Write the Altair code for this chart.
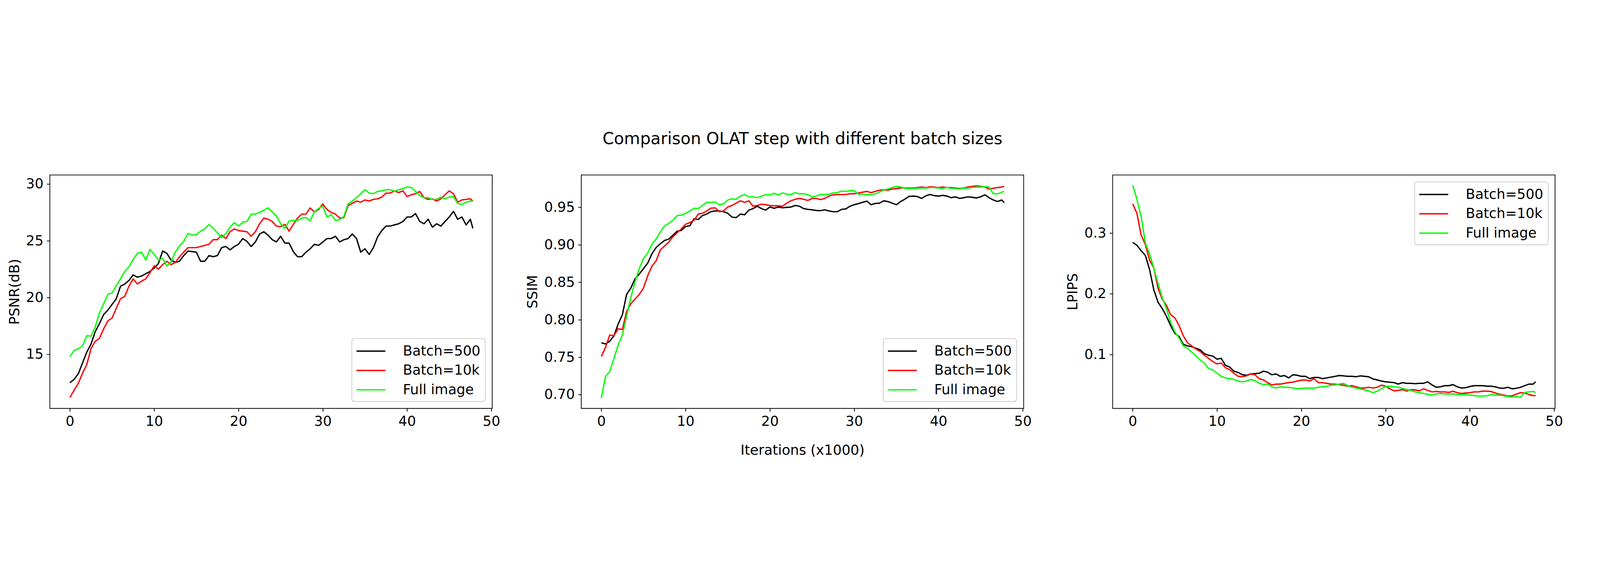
import altair as alt
import pandas as pd

FONT = "DejaVu Sans"

# x positions (thousands of iterations)
ITER = [i * 0.5 for i in range(96)] + [47.8]

SERIES = ["Batch=500", "Batch=10k", "Full image"]
COLORS = ["#000000", "#ff0000", "#00ff00"]

X_TICKS = [0, 10, 20, 30, 40, 50]

# ---------------- PSNR ----------------
psnr_b500 = [
    12.5, 12.8, 13.3, 14.25, 15.2, 15.9, 17.0, 17.7, 18.5, 18.9,
    19.4, 19.9, 21.0, 21.2, 21.5, 22.0, 21.8, 21.9, 22.1, 22.3,
    22.6, 23.0, 24.1, 23.9, 23.3, 23.1, 23.2, 23.7, 24.1, 24.05,
    24.0, 23.2, 23.2, 23.7, 23.6, 23.7, 24.4, 24.5, 24.2, 24.5,
    24.7, 25.2, 24.95, 24.5, 24.9, 25.6, 25.8, 25.5, 25.1, 24.9,
    25.4, 24.8, 24.8, 24.05, 23.6, 23.6, 24.0, 24.3, 24.7, 24.6,
    24.9, 25.2, 25.2, 25.4, 24.9, 25.1, 25.2, 25.6, 25.2, 24.0,
    24.3, 23.8, 24.4, 25.35, 25.9, 26.3, 26.3, 26.4, 26.5, 26.7,
    27.1, 27.1, 27.4, 26.7, 26.5, 26.9, 26.2, 26.5, 26.3, 26.7,
    27.1, 27.6, 26.9, 27.1, 26.4, 26.9, 26.1]
psnr_b10k = [
    11.2, 11.85, 12.45, 13.35, 14.1, 15.5, 16.15, 16.4, 17.25, 17.95,
    18.2, 19.05, 19.9, 20.1, 21.0, 21.65, 21.2, 21.45, 21.65, 22.2,
    22.8, 22.5, 22.9, 23.2, 22.9, 23.1, 23.6, 24.0, 24.4, 24.4,
    24.4, 24.5, 24.6, 24.7, 25.1, 25.1, 25.5, 25.2, 25.8, 26.05,
    25.9, 25.85, 25.8, 25.4, 25.8, 26.5, 27.0, 26.9, 26.7, 26.3,
    26.25, 26.45, 25.85, 26.45, 27.0, 27.35, 27.35, 27.9, 27.55, 27.75,
    28.25, 27.75, 27.5, 27.35, 27.0, 27.05, 28.1, 28.3, 28.5, 28.4,
    28.6, 28.5, 28.65, 28.7, 28.85, 29.2, 29.2, 29.4, 29.25, 29.4,
    28.9, 29.05, 29.15, 29.35, 28.8, 28.65, 28.7, 28.5, 28.7, 29.05,
    29.4, 29.15, 28.4, 28.6, 28.65, 28.7, 28.5]
psnr_full = [
    14.8, 15.35, 15.5, 15.75, 16.65, 16.6, 17.4, 18.65, 19.45, 20.3,
    20.4, 21.05, 21.65, 22.3, 22.7, 23.35, 23.9, 24.0, 23.3, 24.25,
    23.8, 23.3, 23.45, 22.8, 23.15, 24.0, 24.55, 24.95, 25.65, 25.5,
    25.55, 25.85, 26.05, 26.45, 26.1, 25.7, 25.3, 25.65, 26.2, 26.6,
    26.3, 26.65, 26.7, 27.35, 27.35, 27.5, 27.7, 27.9, 27.55, 27.2,
    26.5, 26.1, 26.75, 26.8, 26.8, 27.0, 27.05, 26.75, 27.55, 27.85,
    28.05, 27.1, 27.3, 26.8, 26.85, 27.15, 28.25, 28.5, 28.8, 29.15,
    29.5, 29.2, 29.15, 29.35, 29.4, 29.5, 29.5, 29.35, 29.5, 29.6,
    29.75, 29.7, 29.35, 29.0, 28.8, 28.8, 28.65, 28.65, 28.85, 28.7,
    28.85, 28.9, 28.3, 28.2, 28.4, 28.5, 28.5]

# ---------------- SSIM ----------------
ssim_b500 = [
    0.7693, 0.7677, 0.7714, 0.7787, 0.7943, 0.8068, 0.8338, 0.8422, 0.8547, 0.8609,
    0.8682, 0.8755, 0.888, 0.8963, 0.9015, 0.9057, 0.9077, 0.9129, 0.9182, 0.9192,
    0.9244, 0.9254, 0.9348, 0.9338, 0.939, 0.941, 0.9442, 0.9452, 0.9452, 0.9442,
    0.9421, 0.9369, 0.9363, 0.941, 0.94, 0.9463, 0.9483, 0.9515, 0.9483, 0.9463,
    0.9504, 0.9488, 0.9504, 0.9494, 0.95, 0.9504, 0.9525, 0.9515, 0.9483, 0.9473,
    0.9467, 0.9458, 0.9456, 0.9467, 0.9452, 0.9442, 0.9442, 0.9473, 0.9479, 0.9515,
    0.9535, 0.955, 0.9567, 0.9583, 0.9535, 0.9552, 0.9556, 0.9587, 0.9577, 0.9556,
    0.9535, 0.9577, 0.9608, 0.9646, 0.965, 0.9644, 0.9619, 0.9654, 0.9671, 0.9656,
    0.965, 0.966, 0.965, 0.9629, 0.964, 0.9619, 0.9629, 0.964, 0.9634, 0.9625,
    0.964, 0.9667, 0.9629, 0.9598, 0.9577, 0.9598, 0.9562]
ssim_b10k = [
    0.7510, 0.7631, 0.7797, 0.7787, 0.788, 0.787, 0.811, 0.8214, 0.8276, 0.8338,
    0.8422, 0.8588, 0.8713, 0.8786, 0.8932, 0.8984, 0.9036, 0.9109, 0.9161, 0.9213,
    0.9275, 0.9296, 0.9327, 0.941, 0.9421, 0.9452, 0.9488, 0.9494, 0.9442, 0.9452,
    0.9504, 0.9525, 0.9556, 0.9587, 0.9567, 0.9587, 0.9515, 0.9525, 0.9542, 0.9535,
    0.9525, 0.9521, 0.9521, 0.9515, 0.9556, 0.9587, 0.9608, 0.9619, 0.9608, 0.9592,
    0.9619, 0.9619, 0.9604, 0.9619, 0.965, 0.9667, 0.9671, 0.9671, 0.9671, 0.9681,
    0.9681, 0.9692, 0.9702, 0.9713, 0.9696, 0.9713, 0.9729, 0.9733, 0.9729, 0.9744,
    0.975, 0.9758, 0.9758, 0.9758, 0.9758, 0.9764, 0.9771, 0.9764, 0.9775, 0.9771,
    0.9764, 0.9771, 0.9764, 0.9764, 0.9758, 0.975, 0.9758, 0.9771, 0.9779, 0.9785,
    0.9779, 0.9771, 0.9744, 0.9754, 0.9764, 0.9771, 0.9779]
ssim_full = [
    0.6954, 0.7245, 0.7308, 0.7485, 0.7662, 0.7797, 0.8047, 0.8297, 0.8505, 0.8682,
    0.8817, 0.889, 0.9005, 0.9077, 0.9171, 0.9254, 0.9286, 0.9327, 0.939, 0.9396,
    0.9421, 0.9452, 0.9488, 0.9483, 0.9525, 0.9567, 0.9567, 0.9571, 0.9535, 0.9546,
    0.9598, 0.9612, 0.9608, 0.965, 0.9671, 0.964, 0.964, 0.9629, 0.965, 0.9667,
    0.9665, 0.9688, 0.9665, 0.9692, 0.9675, 0.9671, 0.9696, 0.9681, 0.9681, 0.9671,
    0.964, 0.965, 0.9671, 0.9671, 0.9675, 0.9692, 0.9696, 0.9717, 0.9713, 0.9723,
    0.9723, 0.9675, 0.9675, 0.9671, 0.9667, 0.9681, 0.9702, 0.9733, 0.9744, 0.9764,
    0.9779, 0.9771, 0.9754, 0.975, 0.975, 0.9754, 0.9758, 0.9758, 0.9764, 0.9764,
    0.9758, 0.9754, 0.9764, 0.9754, 0.975, 0.9744, 0.9754, 0.9758, 0.9764, 0.9771,
    0.9771, 0.9775, 0.9771, 0.9681, 0.9681, 0.9702, 0.9713]

# ---------------- LPIPS ----------------
lpips_b500 = [
    0.2846, 0.28, 0.271, 0.2633, 0.2402, 0.2068, 0.1863, 0.176, 0.1632, 0.1478,
    0.1349, 0.1298, 0.117, 0.1144, 0.1131, 0.1105, 0.108, 0.1015, 0.099, 0.0977,
    0.0926, 0.0938, 0.0823, 0.0797, 0.0728, 0.0707, 0.0669, 0.0661, 0.0682, 0.0687,
    0.0694, 0.0728, 0.0712, 0.0669, 0.0682, 0.0643, 0.0656, 0.0617, 0.0669, 0.0661,
    0.0643, 0.0643, 0.0605, 0.0625, 0.0625, 0.0605, 0.0617, 0.063, 0.0643, 0.0656,
    0.0651, 0.0643, 0.0643, 0.0636, 0.0651, 0.0643, 0.0636, 0.06, 0.0584, 0.0566,
    0.0553, 0.0546, 0.054, 0.0515, 0.054, 0.0528, 0.0528, 0.0522, 0.0528, 0.0528,
    0.0553, 0.0502, 0.0463, 0.0471, 0.0489, 0.0489, 0.0507, 0.0471, 0.0451, 0.0456,
    0.0476, 0.0489, 0.0489, 0.0489, 0.0481, 0.0481, 0.0471, 0.0451, 0.0446, 0.0463,
    0.0438, 0.0446, 0.0463, 0.0489, 0.0515, 0.0515, 0.0553]
lpips_b10k = [
    0.348, 0.3326, 0.2967, 0.2813, 0.2556, 0.2427, 0.2094, 0.1914, 0.1811, 0.1657,
    0.1606, 0.1478, 0.1311, 0.1195, 0.1144, 0.1092, 0.1054, 0.099, 0.0938, 0.0887,
    0.0848, 0.0861, 0.0784, 0.0754, 0.0694, 0.0643, 0.0636, 0.0651, 0.0682, 0.0669,
    0.0605, 0.0584, 0.054, 0.0502, 0.0515, 0.0515, 0.0528, 0.054, 0.0548, 0.0566,
    0.0579, 0.0584, 0.0566, 0.0605, 0.054, 0.054, 0.0528, 0.0515, 0.0515, 0.0507,
    0.0497, 0.0481, 0.0489, 0.0471, 0.0451, 0.0451, 0.0463, 0.0451, 0.0463, 0.0497,
    0.0481, 0.0438, 0.0404, 0.0412, 0.0425, 0.0399, 0.0425, 0.042, 0.0404, 0.0438,
    0.0412, 0.0387, 0.0394, 0.0387, 0.0387, 0.0379, 0.0399, 0.0374, 0.0361, 0.0369,
    0.0374, 0.0387, 0.0387, 0.0399, 0.0399, 0.0394, 0.0369, 0.0348, 0.0335, 0.0317,
    0.0323, 0.0348, 0.0374, 0.0369, 0.0343, 0.0327, 0.0327]
lpips_full = [
    0.3788, 0.3557, 0.3275, 0.2838, 0.2659, 0.2427, 0.2171, 0.194, 0.176, 0.1529,
    0.1375, 0.1272, 0.1144, 0.1105, 0.1041, 0.0977, 0.0913, 0.0861, 0.0772, 0.0746,
    0.0694, 0.0643, 0.0617, 0.0605, 0.0592, 0.0566, 0.0553, 0.0566, 0.0592, 0.0574,
    0.0528, 0.0507, 0.0515, 0.0471, 0.0451, 0.0471, 0.0463, 0.0463, 0.0451, 0.0438,
    0.0446, 0.0451, 0.0451, 0.0446, 0.0463, 0.0471, 0.0476, 0.0497, 0.0502, 0.0515,
    0.0528, 0.0489, 0.0463, 0.0451, 0.0438, 0.042, 0.0404, 0.0374, 0.0399, 0.0438,
    0.0476, 0.0481, 0.0471, 0.0463, 0.0446, 0.0425, 0.0412, 0.0387, 0.0374, 0.0361,
    0.0348, 0.0335, 0.0353, 0.0361, 0.0353, 0.0353, 0.0353, 0.0343, 0.0343, 0.0343,
    0.0335, 0.0327, 0.0317, 0.0317, 0.0323, 0.0343, 0.0335, 0.0335, 0.0323, 0.031,
    0.0302, 0.031, 0.0297, 0.0379, 0.0387, 0.0394, 0.0379]

TITLE = "Comparison OLAT step with different batch sizes"
XLABEL = "Iterations (x1000)"

PANEL_W = 1988
PANEL_H = 1049


def panel(values, ytitle, ydomain, yticks, yfmt, legend_orient, xtitle=None, title=None):
    rows = []
    for name, vals in zip(SERIES, values):
        for xv, yv in zip(ITER, vals):
            rows.append({"x": xv, "y": yv, "series": name})
    df = pd.DataFrame(rows)

    color = alt.Color(
        "series:N",
        scale=alt.Scale(domain=SERIES, range=COLORS),
        legend=alt.Legend(
            title=None,
            orient=legend_orient,
            offset=31,
            padding=21,
            cornerRadius=12,
            fillColor="rgba(255,255,255,0.8)",
            strokeColor="#cccccc",
            symbolType="M-2,0L2,0",
            symbolSize=4225,
            symbolStrokeWidth=6,
            symbolOffset=29.5,
            labelOffset=108,
            rowPadding=20,
            labelFont=FONT,
            labelFontSize=62,
            labelColor="black",
            labelLimit=600,
        ),
    )
    xaxis = alt.Axis(values=X_TICKS, format="d", title=xtitle)
    yaxis = alt.Axis(values=yticks, format=yfmt, title=ytitle)
    layers = []
    for name in SERIES:
        layers.append(
            alt.Chart(df)
            .transform_filter(alt.datum.series == name)
            .mark_line(strokeWidth=6, strokeJoin="round")
            .encode(
                x=alt.X("x:Q", scale=alt.Scale(domain=[-2.38, 50.1], nice=False, zero=False), axis=xaxis),
                y=alt.Y("y:Q", scale=alt.Scale(domain=ydomain, nice=False, zero=False), axis=yaxis),
                color=color,
            )
        )
    ch = alt.layer(*layers).properties(width=PANEL_W, height=PANEL_H)
    if title is not None:
        ch = ch.properties(
            title=alt.TitleParams(
                text=title,
                font=FONT,
                fontSize=74,
                fontWeight="normal",
                color="black",
                anchor="middle",
                frame="group",
                offset=123,
            )
        )
    return ch


p1 = panel([psnr_b500, psnr_b10k, psnr_full], "PSNR(dB)", [10.24, 30.8],
           [15, 20, 25, 30], "d", "bottom-right")
p2 = panel([ssim_b500, ssim_b10k, ssim_full], "SSIM", [0.6817, 0.9932],
           [0.70, 0.75, 0.80, 0.85, 0.90, 0.95], ".2f", "bottom-right",
           xtitle=XLABEL, title=TITLE)
p3 = panel([lpips_b500, lpips_b10k, lpips_full], "LPIPS", [0.0115, 0.3957],
           [0.1, 0.2, 0.3], ".1f", "top-right")

chart = (
    alt.hconcat(p1, p2, p3, spacing=400, bounds="flush")
    .properties(
        background="white",
        padding={"left": 19, "top": 12, "right": 150, "bottom": 0},
    )
    .configure_view(stroke="black", strokeWidth=3.3)
    .configure_axis(
        domain=False, grid=False, ticks=True, tickColor="black", tickWidth=3.3,
        tickSize=14, labelFont=FONT, labelFontSize=62, labelColor="black",
        titleFont=FONT, titleFontSize=62, titleFontWeight="normal",
        titleColor="black", labelPadding=15, labelFlush=False,
    )
    .configure_axisY(titlePadding=18)
    .configure_axisX(titlePadding=69)
    .configure_legend(strokeWidth=3.3)
)

chart.save("out.html", embed_options={"renderer": "svg", "actions": False})
